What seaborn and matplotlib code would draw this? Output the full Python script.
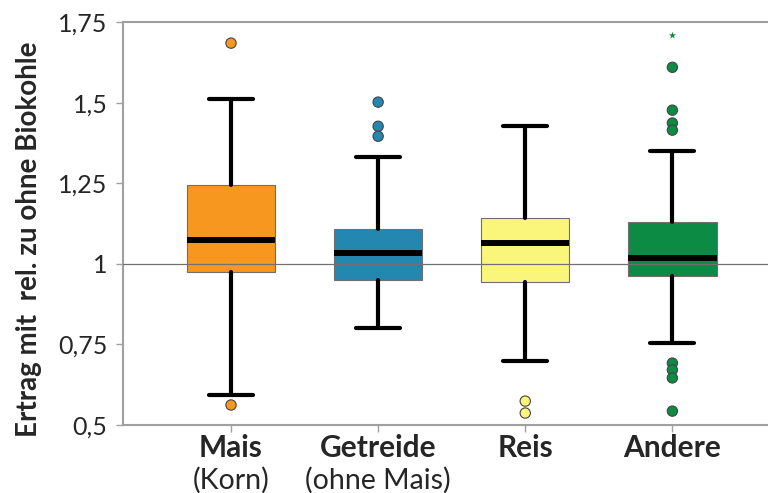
import matplotlib
matplotlib.use("Agg")
import matplotlib.pyplot as plt
import seaborn as sns
import pandas as pd

categories = ["Mais", "Getreide", "Reis", "Andere"]
sublabels = ["(Korn)", "(ohne Mais)", "", ""]
colors = ["#F7971F", "#2387B0", "#FAF67C", "#0C8B45"]

whisker_low = [0.593, 0.801, 0.699, 0.754]
q1 = [0.975, 0.950, 0.944, 0.962]
median = [1.074, 1.034, 1.065, 1.018]
q3 = [1.244, 1.108, 1.142, 1.130]
whisker_high = [1.511, 1.331, 1.427, 1.350]

outlier_cat = ["Mais", "Mais", "Getreide", "Getreide", "Getreide", "Reis", "Reis",
               "Andere", "Andere", "Andere", "Andere", "Andere", "Andere", "Andere", "Andere"]
outlier_val = [1.685, 0.562, 1.502, 1.427, 1.396, 0.574, 0.537,
               1.610, 1.477, 1.437, 1.415, 0.692, 0.671, 0.646, 0.543]
extreme_cat = ["Andere"]
extreme_val = [1.71]

yticks = [0.5, 0.75, 1.0, 1.25, 1.5, 1.75]
ytick_labels = ["0,5", "0,75", "1", "1,25", "1,5", "1,75"]
ylabel = "Ertrag mit  rel. zu ohne Biokohle"

sns.set_style("white")
plt.rcParams["font.family"] = ["Lato", "DejaVu Sans"]

fig = plt.figure(figsize=(7.68, 4.93), dpi=100)
ax = fig.add_axes([0.160, 0.138, 0.840, 0.817])

stats = []
for i, c in enumerate(categories):
    stats.append(dict(label=c, whislo=whisker_low[i], q1=q1[i], med=median[i],
                      q3=q3[i], whishi=whisker_high[i], fliers=[]))
pos = list(range(len(categories)))
bp = ax.bxp(stats, positions=pos, widths=0.6, patch_artist=True, showfliers=False,
            boxprops=dict(edgecolor="#6f6f6f", linewidth=0.8),
            whiskerprops=dict(color="black", linewidth=3.0),
            capprops=dict(color="black", linewidth=3.0),
            medianprops=dict(color="black", linewidth=4.3),
            capwidths=0.3)
for patch, col in zip(bp["boxes"], colors):
    patch.set_facecolor(col)
    patch.set_zorder(2)

df = pd.DataFrame({"cat": outlier_cat, "val": outlier_val})
df["x"] = df["cat"].map({c: i for i, c in enumerate(categories)})
pal = dict(zip(categories, colors))
sns.scatterplot(data=df, x="x", y="val", hue="cat", palette=pal, s=55,
                edgecolor="#444444", linewidth=0.8, legend=False, ax=ax, zorder=4)
dfe = pd.DataFrame({"cat": extreme_cat, "val": extreme_val})
dfe["x"] = dfe["cat"].map({c: i for i, c in enumerate(categories)})
sns.scatterplot(data=dfe, x="x", y="val", hue="cat", palette=pal, marker="*", s=30,
                linewidth=0, legend=False, ax=ax, zorder=4)

ax.axhline(1.0, color="#707070", linewidth=0.9, zorder=3)

ax.set_xlim(-0.735, 3.65)
ax.set_ylim(0.5, 1.75)
ax.set_yticks(yticks)
ax.set_yticklabels(ytick_labels, fontsize=18)
ax.set_xticks(pos)
ax.set_xticklabels([])
ax.set_xlabel("")
ax.set_ylabel(ylabel, fontsize=20, fontweight="bold", va="center")
ax.yaxis.set_label_coords(-0.146, 0.46)

for s in ["left", "top", "bottom"]:
    ax.spines[s].set_color("#a0a0a0")
    ax.spines[s].set_linewidth(1.5)
ax.spines["right"].set_visible(False)
ax.tick_params(axis="y", which="both", left=True, length=5, color="#a0a0a0", width=1, pad=6)
ax.tick_params(axis="x", which="both", bottom=True, length=5, color="#a0a0a0", width=1)

for i, c in enumerate(categories):
    ax.text(i, -0.058, c, transform=ax.get_xaxis_transform(), ha="center", va="center",
            fontsize=21.5, fontweight="bold")
    if sublabels[i]:
        ax.text(i, -0.137, sublabels[i], transform=ax.get_xaxis_transform(), ha="center",
                va="center", fontsize=20.5)

fig.savefig("out.png", dpi=100)
